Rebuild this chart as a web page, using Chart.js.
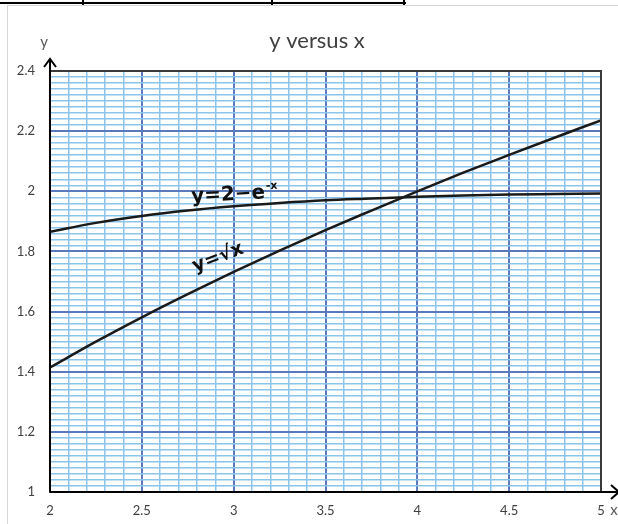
<!DOCTYPE html>
<html>
<head>
<meta charset="utf-8">
<script src="https://cdn.jsdelivr.net/npm/chart.js@4/dist/chart.umd.min.js"></script>
<style>
  html, body { margin: 0; padding: 0; background: #fff; width: 618px; height: 524px; overflow: hidden; }
  #wrap { position: relative; width: 618px; height: 524px; }
  #frame { position: absolute; left: 7px; top: 5px; width: 700px; height: 600px; border-left: 1px solid #d6d6d6; border-top: 1px solid #d6d6d6; }
  .tl { position: absolute; background: #000; }
  canvas { position: absolute; left: 0; top: 0; }
</style>
</head>
<body>
<div id="wrap">
  <div id="frame"></div>
  <div class="tl" style="left:0;top:2px;width:406px;height:2px"></div>
  <div class="tl" style="left:82px;top:0;width:2px;height:5px"></div>
  <div class="tl" style="left:271px;top:0;width:2px;height:5px"></div>
  <div class="tl" style="left:403px;top:0;width:2px;height:5px"></div>
  <canvas id="c" width="618" height="524"></canvas>
</div>
<script>
// ---- data ----
const xValues   = [2, 2.25, 2.5, 2.75, 3, 3.25, 3.5, 3.75, 4, 4.25, 4.5, 4.75, 5];
const sqrtCurve = [1.414, 1.500, 1.581, 1.658, 1.732, 1.803, 1.871, 1.936, 2.000, 2.062, 2.121, 2.179, 2.236];
const expCurve  = [1.865, 1.895, 1.918, 1.936, 1.950, 1.961, 1.970, 1.976, 1.982, 1.986, 1.989, 1.991, 1.993];
const xTickLabels = ['2', '2.5', '3', '3.5', '4', '4.5', '5'];
const yTickLabels = ['1', '1.2', '1.4', '1.6', '1.8', '2', '2.2', '2.4'];
const titleText = 'y versus x';
const xAxisTitle = 'x';
const yAxisTitle = 'y';
const sqrtLabel = 'y=\u221Ax';
const expLabelMain = 'y=2\u2212e';
const expLabelSup = '-x';

const MAJOR = '#5a7abd';
const MINOR = '#8cc4ec';
const FONT = 'Lato, "Open Sans", sans-serif';
const LABEL_FONT = '"DejaVu Sans", sans-serif';

function toPoints(xs, ys) { return xs.map((x, i) => ({ x: x, y: ys[i] })); }

const decor = {
  id: 'decor',
  afterDraw(chart) {
    const ctx = chart.ctx;
    const a = chart.chartArea;
    const xs = chart.scales.x, ys = chart.scales.y;
    ctx.save();
    // plot border
    ctx.strokeStyle = '#3a3a3a';
    ctx.lineWidth = 2;
    ctx.strokeRect(a.left, a.top, a.right - a.left, a.bottom - a.top);
    // axes (black) with arrows
    ctx.strokeStyle = '#000';
    ctx.lineWidth = 2;
    ctx.beginPath();
    ctx.moveTo(a.left, a.bottom); ctx.lineTo(a.left, a.top - 12);
    ctx.moveTo(a.left - 6, a.top - 4); ctx.lineTo(a.left, a.top - 12); ctx.lineTo(a.left + 6, a.top - 4);
    ctx.moveTo(a.left, a.bottom); ctx.lineTo(a.right + 18, a.bottom);
    ctx.moveTo(a.right + 10, a.bottom - 7); ctx.lineTo(a.right + 18, a.bottom); ctx.lineTo(a.right + 10, a.bottom + 7);
    ctx.stroke();
    // title
    ctx.fillStyle = '#404040';
    ctx.font = '22px ' + FONT;
    ctx.textAlign = 'center';
    ctx.textBaseline = 'middle';
    ctx.fillText(titleText, 317, 41);
    // axis titles
    ctx.fillStyle = '#595959';
    ctx.font = '15px ' + FONT;
    ctx.fillText(yAxisTitle, 44, 42);
    ctx.fillText(xAxisTitle, 614, 510);
    // curve labels
    ctx.fillStyle = '#111';
    ctx.textAlign = 'left';
    ctx.textBaseline = 'alphabetic';
    ctx.save();
    ctx.translate(xs.getPixelForValue(2.77), ys.getPixelForValue(1.9635));
    ctx.rotate(-3 * Math.PI / 180);
    ctx.font = 'bold 20px ' + LABEL_FONT;
    ctx.fillText(expLabelMain, 0, 0);
    const w = ctx.measureText(expLabelMain).width;
    ctx.font = 'bold 11px ' + LABEL_FONT;
    ctx.fillText(expLabelSup, w + 1, -9);
    ctx.restore();
    ctx.save();
    ctx.translate(xs.getPixelForValue(2.79), ys.getPixelForValue(1.732));
    ctx.rotate(-21 * Math.PI / 180);
    ctx.font = 'bold 19px ' + LABEL_FONT;
    ctx.fillText(sqrtLabel, 0, 0);
    ctx.restore();
    ctx.restore();
  }
};

new Chart(document.getElementById('c'), {
  type: 'line',
  data: {
    datasets: [
      { label: 'sqrt', data: toPoints(xValues, sqrtCurve), borderColor: '#1a1a1a', borderWidth: 2.5, pointRadius: 0, cubicInterpolationMode: 'monotone', fill: false },
      { label: 'exp',  data: toPoints(xValues, expCurve),  borderColor: '#1a1a1a', borderWidth: 2.5, pointRadius: 0, cubicInterpolationMode: 'monotone', fill: false }
    ]
  },
  options: {
    responsive: false,
    animation: false,
    events: [],
    layout: { padding: { top: 71, right: 17, left: 0, bottom: 0 } },
    plugins: { legend: { display: false }, title: { display: false }, tooltip: { enabled: false } },
    scales: {
      x: {
        type: 'linear', min: 2, max: 5,
        afterFit: s => { s.height = 32; },
        border: { display: false },
        grid: {
          drawTicks: false,
          color: c => (Math.round(c.tick.value * 10) % 5 === 0 ? MAJOR : MINOR),
          lineWidth: c => (Math.round(c.tick.value * 10) % 5 === 0 ? 2 : 1.5)
        },
        ticks: {
          stepSize: 0.1, autoSkip: false, maxRotation: 0, padding: 11,
          color: '#404040', font: { family: FONT, size: 13 },
          callback: v => { const k = Math.round(v * 10); return k % 5 === 0 ? xTickLabels[(k - 20) / 5] : ''; }
        }
      },
      y: {
        type: 'linear', min: 1, max: 2.4,
        afterFit: s => { s.width = 50; },
        border: { display: false },
        grid: {
          drawTicks: false,
          color: c => (Math.round(c.tick.value * 100) % 20 === 0 ? MAJOR : MINOR),
          lineWidth: c => (Math.round(c.tick.value * 100) % 20 === 0 ? 2 : 1.5)
        },
        ticks: {
          stepSize: 0.02, autoSkip: false, padding: 15,
          color: '#404040', font: { family: FONT, size: 13 },
          callback: v => { const k = Math.round(v * 100); return k % 20 === 0 ? yTickLabels[(k - 100) / 20] : ''; }
        }
      }
    }
  },
  plugins: [decor]
});
</script>
</body>
</html>
